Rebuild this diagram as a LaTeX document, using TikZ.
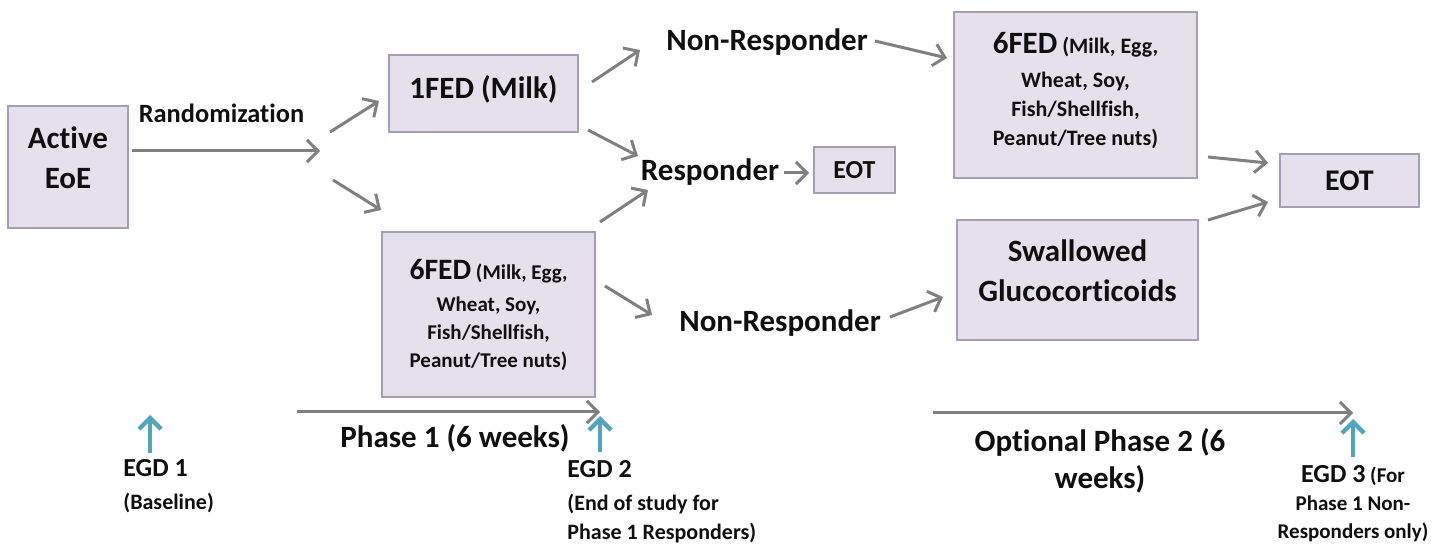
\documentclass[tikz,border=0pt]{standalone}
\usepackage{fontspec}
\setmainfont{Carlito}[Ligatures=CommonOff]
\usetikzlibrary{arrows.meta}
\definecolor{boxfill}{RGB}{229,224,236}
\definecolor{boxline}{RGB}{166,159,179}
\definecolor{arrgray}{RGB}{128,128,128}
\definecolor{egdblue}{RGB}{80,166,192}
\definecolor{txt}{RGB}{15,15,15}
\newcommand\fmain{\fontsize{15.5}{20}\selectfont}
\newcommand\fmainL{\fontsize{14.8}{19}\selectfont}
\newcommand\fsmall{\fontsize{11}{14.5}\selectfont}
\newcommand\fsmallL{\fontsize{10.5}{14}\selectfont}
\newcommand\fegd{\fontsize{13}{16.5}\selectfont}
\newcommand\lift[1]{\rule[-#1]{0pt}{#1}}
\begin{document}
\begin{tikzpicture}[x=0.5pt,y=-0.5pt,
  every node/.style={text=txt, font=\bfseries\fmain},
  box/.style={draw=boxline, fill=boxfill, line width=1pt, align=center, inner sep=0pt},
  lbl/.style={inner sep=0pt, align=center},
  arr/.style={draw=arrgray, line width=1.5pt, -{Straight Barb[length=5.5pt,width=11pt]}},
  bluearr/.style={draw=egdblue, line width=2.2pt, -{Straight Barb[length=5.5pt,width=11pt]}}]
\useasboundingbox (0,0) rectangle (1449,544);

% boxes
\node[box, minimum width=60pt, minimum height=61pt] (active) at (68,167) {Active\\EoE\lift{9pt}};
\node[box, minimum width=94.5pt, minimum height=38.5pt] (onefed) at (483.5,93.5) {1FED (Milk)\lift{6pt}};
\node[box, minimum width=106.5pt, minimum height=82.5pt, font=\bfseries\fsmallL] (sixfedL) at (488.5,314.5)
  {{\fmainL 6FED} (Milk, Egg,\\[2pt] Wheat, Soy,\\ Fish/Shellfish,\\ Peanut/Tree nuts)};
\node[box, minimum width=40.5pt, minimum height=23pt, font=\bfseries\fegd] (eot1) at (854.5,170) {EOT};
\node[box, minimum width=121.5pt, minimum height=83pt, font=\bfseries\fsmall] (sixfedR) at (1075.5,95)
  {{\fmain 6FED} (Milk, Egg,\\[2.5pt] Wheat, Soy,\\ Fish/Shellfish,\\ Peanut/Tree nuts)\lift{6pt}};
\node[box, minimum width=120.5pt, minimum height=60pt] (swal) at (1077.5,280) {Swallowed\\Glucocorticoids\lift{9pt}};
\node[box, minimum width=69.5pt, minimum height=26.5pt, font=\bfseries\fontsize{15}{18}\selectfont] (eot2) at (1349.5,180.5) {EOT};

% labels
\node[lbl, font=\bfseries\fontsize{13.2}{16}\selectfont] (rand) at (221.5,113) {Randomization};
\node[lbl] (nrtop) at (767,42) {Non-Responder};
\node[lbl] (resp) at (710,172) {Responder};
\node[lbl] (nrbot) at (780,323) {Non-Responder};
\node[lbl] (phase1) at (455,438) {Phase 1 (6 weeks)};
\node[lbl, font=\bfseries\fontsize{15.5}{18.5}\selectfont] (phase2) at (1100,461) {Optional Phase 2 (6\\weeks)};
\node[lbl, align=left, anchor=west, font=\bfseries\fsmall] (egd1) at (123,486) {{\fegd EGD 1}\\[2pt](Baseline)};
\node[lbl, align=left, anchor=west, font=\bfseries\fsmall] (egd2) at (567,502) {{\fegd EGD 2}\\[2pt](End of study for\\Phase 1 Responders)};
\node[lbl, font=\bfseries\fsmallL] (egd3) at (1353,504) {{\fegd EGD 3} (For\\Phase 1 Non-\\Responders only)};

% connector end points
\coordinate (r0) at (132,151); \coordinate (r1) at (320,151);
\coordinate (u0) at (330,132); \coordinate (u1) at (379,101);
\coordinate (d0) at (333,180); \coordinate (d1) at (381,210);
\coordinate (m0) at (592,82);  \coordinate (m1) at (640,50);
\coordinate (m2) at (588,130); \coordinate (m3) at (638,156);
\coordinate (s0) at (600,222); \coordinate (s1) at (648,190);
\coordinate (s2) at (605,286); \coordinate (s3) at (652,315);
\coordinate (e0) at (784,173); \coordinate (e1) at (809,173);
\coordinate (n0) at (875,41);  \coordinate (n1) at (947,58);
\coordinate (n2) at (890,317); \coordinate (n3) at (943,297);
\coordinate (t0) at (1208,157); \coordinate (t1) at (1268,163);
\coordinate (t2) at (1208,220); \coordinate (t3) at (1268,202);
\coordinate (p0) at (297,412); \coordinate (p1) at (600,412);
\coordinate (q0) at (933,413); \coordinate (q1) at (1353,413);
\coordinate (b0) at (150,453); \coordinate (b1) at (150,415);
\coordinate (c0) at (600,452); \coordinate (c1) at (600,416);
\coordinate (g0) at (1353,457); \coordinate (g1) at (1353,419);

% connectors
\draw[arr] (r0) -- (r1);
\draw[arr] (u0) -- (u1);
\draw[arr] (d0) -- (d1);
\draw[arr] (m0) -- (m1);
\draw[arr] (m2) -- (m3);
\draw[arr] (s0) -- (s1);
\draw[arr] (s2) -- (s3);
\draw[arr] (e0) -- (e1);
\draw[arr] (n0) -- (n1);
\draw[arr] (n2) -- (n3);
\draw[arr] (t0) -- (t1);
\draw[arr] (t2) -- (t3);
\draw[arr] (p0) -- (p1);
\draw[arr] (q0) -- (q1);
\draw[bluearr] (b0) -- (b1);
\draw[bluearr] (c0) -- (c1);
\draw[bluearr] (g0) -- (g1);
\end{tikzpicture}
\end{document}
